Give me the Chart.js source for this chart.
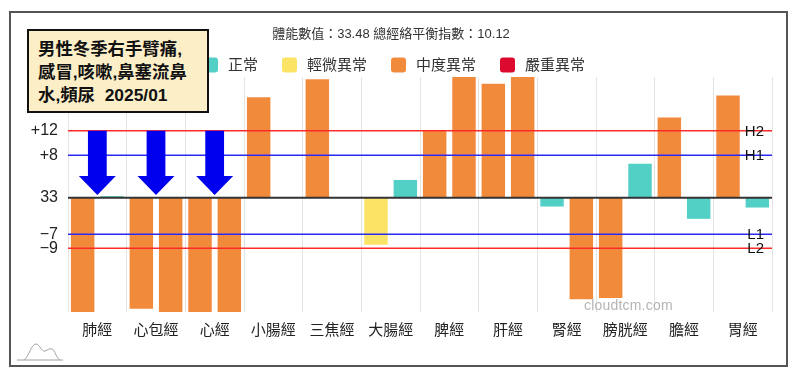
<!DOCTYPE html>
<html><head><meta charset="utf-8">
<script src="https://cdn.jsdelivr.net/npm/chart.js@4"></script>
<style>
html,body{margin:0;padding:0;background:#fff;}
#wrap{position:relative;width:800px;height:376px;overflow:hidden;background:#fff;}
#frame{position:absolute;left:9px;top:11px;width:779px;height:356px;border:2px solid #555;box-sizing:border-box;pointer-events:none;}
#note{position:absolute;left:27px;top:29px;width:182px;height:84px;border:2px solid #111;background:#fcefc8;box-sizing:border-box;
 font:bold 17.4px 'Liberation Sans','Noto Sans CJK TC',sans-serif;line-height:23px;color:#111;padding:7px 0 0 9px;white-space:nowrap;}
#wm{position:absolute;left:584px;top:297px;font:14px 'Liberation Sans','Noto Sans CJK TC',sans-serif;color:#b5b5b5;letter-spacing:0.2px;}
#logo{position:absolute;left:15px;top:339px;}
canvas{position:absolute;left:0;top:0;}
</style></head><body>
<div id="wrap">
<canvas id="c" width="800" height="376"></canvas>
<div id="frame"></div>
<div id="note">男性冬季右手臂痛,<br>感冒,咳嗽,鼻塞流鼻<br>水,頻尿&nbsp;&nbsp;2025/01</div>
<div id="wm">cloudtcm.com</div>
<svg id="logo" width="50" height="24" viewBox="0 0 50 24"><path d="M2 21 H48 M9 21 C14 18 16 5 21 5 C25 5 26 13 30 12 C33 11 34 9 37 10 C40 11 41 19 45 21" fill="none" stroke="#a0a0a0" stroke-width="1"/></svg>
</div>
<script>
const categories = ['肺經','心包經','心經','小腸經','三焦經','大腸經','脾經','肝經','腎經','膀胱經','膽經','胃經'];
const leftValues  = [-21, -19.8, -21, 18.0, 21.2, -8.4, 12.0, 20.4, -1.55, -17.9, 14.35, 18.3];
const rightValues = [0.3, -21, -21, 0, 0, 3.2, 22, 22, -18.1, 6.1, -3.75, -1.73];
const leftStatus  = [2,2,2,2,2,1,2,2,0,2,2,2];
const rightStatus = [0,2,2,0,0,0,2,2,2,0,0,0];
const statusLabels = ['正常','輕微異常','中度異常','嚴重異常'];
const statusColors = ['#52d0c5','#fbe365','#f28a3c','#dc0a2e'];
const tickValues = [12, 7.6, 0, -6.5, -9];
const tickLabels = ['+12','+8','33','−7','−9'];
const refValues = [12, 7.6, -6.5, -9];
const refLabels = ['H2','H1','L1','L2'];
const refColors = ['#ff2b2b','#2a2af5','#2a2af5','#ff2b2b'];
const arrowCategories = [0,1,2];
const arrowTop = 12, arrowNeck = 3.9, arrowTip = 0.5;
const yMin = -20.4, yMax = 21.6;
const titleText = '體能數值：33.48 總經絡平衡指數：10.12';
const FONT = "'Liberation Sans','Noto Sans CJK TC',sans-serif";

const overlay = {
  id:'overlay',
  afterDatasetsDraw(chart){
    const {ctx, chartArea:a, scales:{x,y}} = chart;
    ctx.save();
    ctx.strokeStyle='#333'; ctx.lineWidth=2;
    const y0=y.getPixelForValue(0);
    ctx.beginPath(); ctx.moveTo(a.left,y0); ctx.lineTo(a.right,y0); ctx.stroke();
    refValues.forEach((v,i)=>{
      const py=y.getPixelForValue(v);
      ctx.strokeStyle=refColors[i]; ctx.lineWidth=1.5;
      ctx.beginPath(); ctx.moveTo(a.left,py); ctx.lineTo(a.right,py); ctx.stroke();
    });
    const cw = x.getPixelForValue(1)-x.getPixelForValue(0);
    ctx.fillStyle='#0000ee';
    arrowCategories.forEach(ci=>{
      const cx=x.getPixelForValue(ci);
      const sw=cw*0.16, hw=cw*0.315;
      const t=y.getPixelForValue(arrowTop), n=y.getPixelForValue(arrowNeck), p=y.getPixelForValue(arrowTip);
      ctx.beginPath();
      ctx.moveTo(cx-sw,t); ctx.lineTo(cx+sw,t); ctx.lineTo(cx+sw,n); ctx.lineTo(cx+hw,n);
      ctx.lineTo(cx,p); ctx.lineTo(cx-hw,n); ctx.lineTo(cx-sw,n); ctx.closePath(); ctx.fill();
    });
    ctx.fillStyle='#111'; ctx.font='15px '+FONT; ctx.textAlign='right'; ctx.textBaseline='middle';
    refValues.forEach((v,i)=>{ ctx.fillText(refLabels[i], a.right-8, y.getPixelForValue(v)+1); });
    ctx.restore();
  },
  afterDraw(chart){
    const {ctx, chartArea:a} = chart;
    ctx.save();
    ctx.font='15px '+FONT; ctx.textBaseline='middle'; ctx.textAlign='left';
    const box=15, gap=10, itemGap=24;
    const widths=statusLabels.map(t=>ctx.measureText(t).width);
    const total=widths.reduce((s,w)=>s+box+gap+w,0)+itemGap*(statusLabels.length-1);
    let xx=chart.width/2-6-total/2;
    const yy=a.top-12;
    statusLabels.forEach((t,i)=>{
      ctx.fillStyle=statusColors[i];
      ctx.beginPath();
      if(ctx.roundRect) ctx.roundRect(xx,yy-box/2,box,box,3); else ctx.rect(xx,yy-box/2,box,box);
      ctx.fill();
      ctx.fillStyle='#333';
      ctx.fillText(t,xx+box+gap,yy+1);
      xx+=box+gap+widths[i]+itemGap;
    });
    ctx.restore();
  }
};

new Chart(document.getElementById('c'),{
  type:'bar',
  data:{
    labels:categories,
    datasets:[
      {label:'左', data:leftValues, backgroundColor:leftStatus.map(s=>statusColors[s]), borderWidth:0, categoryPercentage:1.0, barPercentage:0.8},
      {label:'右', data:rightValues, backgroundColor:rightStatus.map(s=>statusColors[s]), borderWidth:0, categoryPercentage:1.0, barPercentage:0.8}
    ]
  },
  options:{
    responsive:false, animation:false, devicePixelRatio:1,
    layout:{padding:{left:10,right:28,top:0,bottom:0}},
    plugins:{
      legend:{display:false},
      tooltip:{enabled:false},
      title:{display:true,text:titleText,color:'#333',font:{size:13,family:FONT,weight:'normal'},padding:{top:27,bottom:34.4}}
    },
    scales:{
      x:{
        grid:{display:true,color:'#e4e4e4',lineWidth:1,drawTicks:false,offset:true},
        border:{display:false},
        ticks:{color:'#222',font:{size:15,family:FONT},padding:10,maxRotation:0,autoSkip:false},
        afterFit(s){ s.height=64; }
      },
      y:{
        min:yMin,max:yMax,
        grid:{display:false,drawTicks:false},
        border:{display:false},
        afterBuildTicks(s){ s.ticks=tickValues.map(v=>({value:v})); },
        ticks:{color:'#222',font:{size:16,family:FONT},padding:10,callback:(v)=>{const i=tickValues.indexOf(v);return i>=0?tickLabels[i]:'';}},
        afterFit(s){ s.width=58; }
      }
    }
  },
  plugins:[overlay]
});
</script>
</body></html>
